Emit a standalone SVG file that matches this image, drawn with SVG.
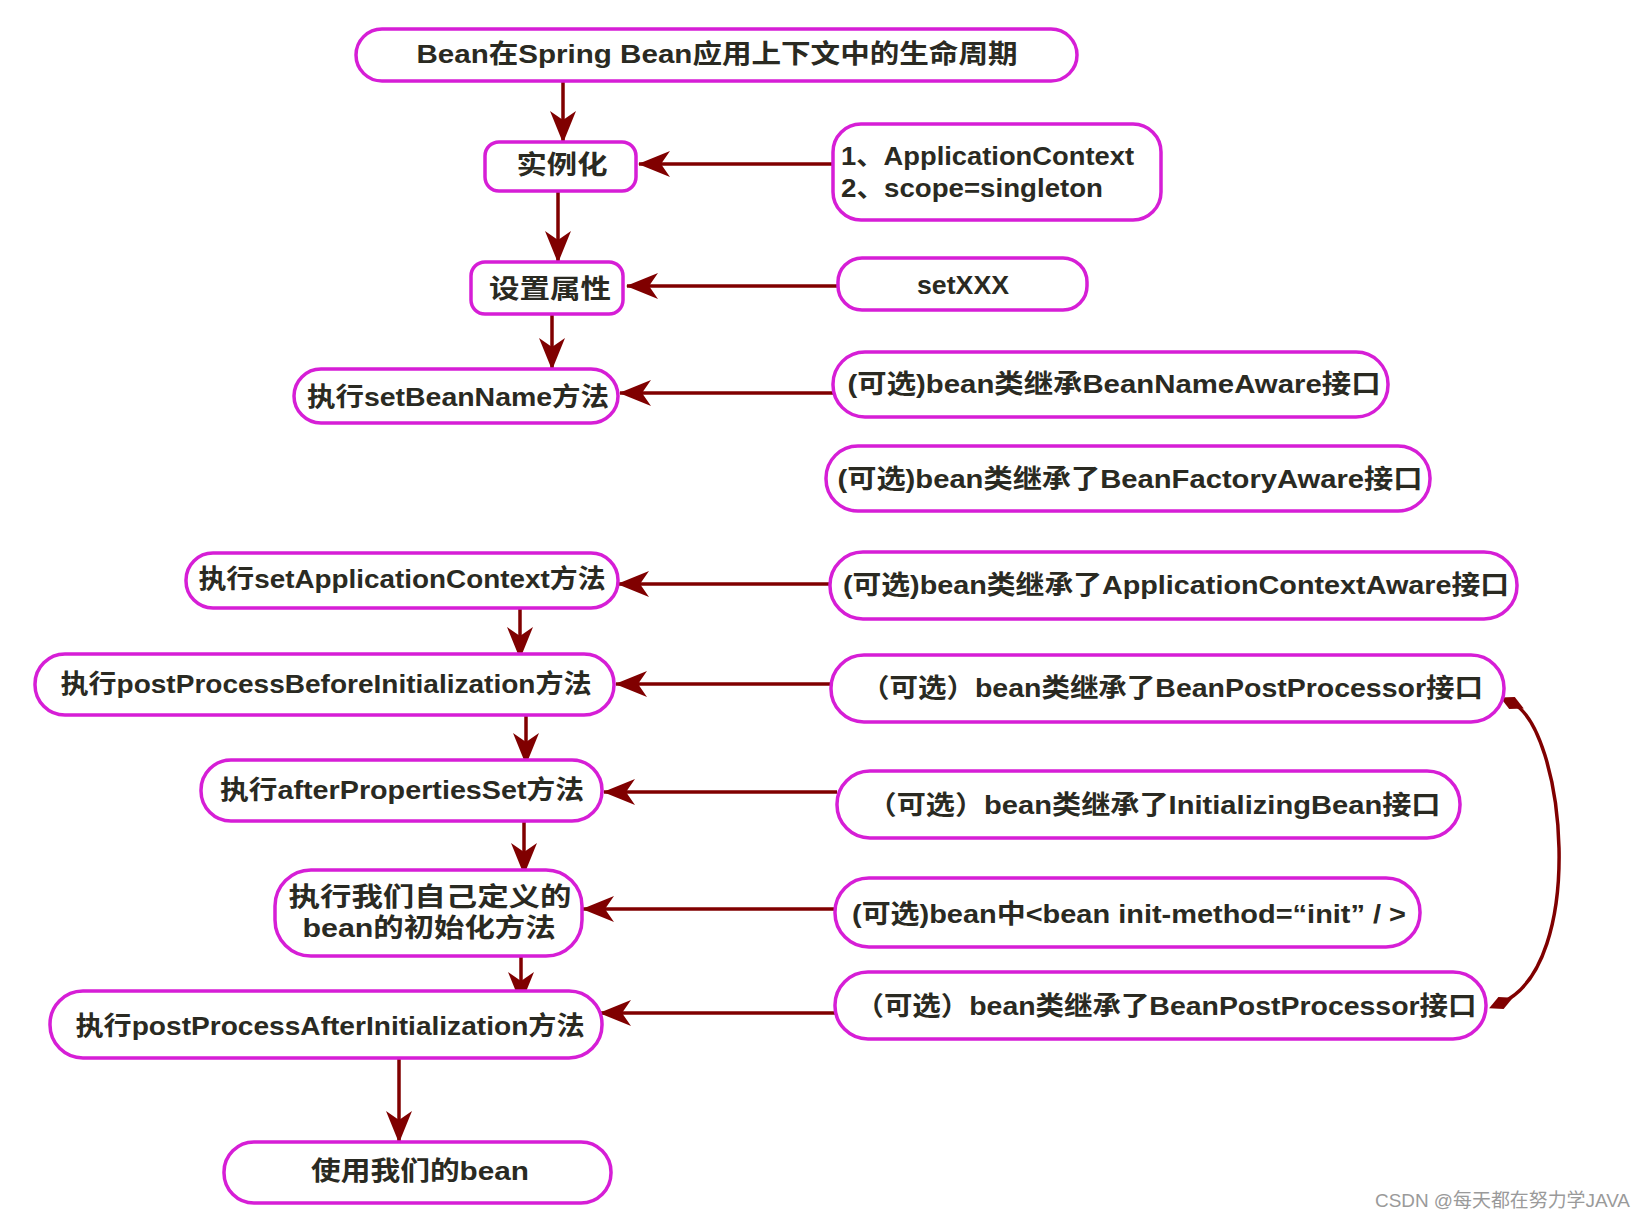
<svg xmlns="http://www.w3.org/2000/svg" width="1643" height="1217" viewBox="0 0 1643 1217">
<style>
.box{fill:#ffffff;stroke:#d61ed6;stroke-width:3.5}
.t{font-family:"Liberation Sans","Noto Sans CJK SC",sans-serif;font-weight:bold;fill:#2a2a22;font-size:26px;text-anchor:middle}
.ts{text-anchor:start}
.c{fill:none;stroke:#800000;stroke-width:3.5}
.wm{font-family:"Liberation Sans","Noto Sans CJK SC",sans-serif;fill:#9a9a9a;font-size:19px}
</style>
<defs>
<marker id="ah" markerUnits="userSpaceOnUse" viewBox="0 0 32 26" refX="31" refY="13" markerWidth="32" markerHeight="26" orient="auto">
<path d="M0,0 L32,13 L0,26 L9,13 Z" fill="#800000"/>
</marker>
<marker id="dm" markerUnits="userSpaceOnUse" viewBox="0 0 26 13" refX="13" refY="6.5" markerWidth="26" markerHeight="13" orient="auto">
<path d="M0,6.5 L13,0 L26,6.5 L13,13 Z" fill="#800000"/>
</marker>
</defs>
<rect width="1643" height="1217" fill="#ffffff"/>

<g id="connectors">
<line class="c" x1="563" y1="81" x2="563" y2="142" marker-end="url(#ah)"/>
<line class="c" x1="558" y1="191" x2="558" y2="262" marker-end="url(#ah)"/>
<line class="c" x1="552" y1="314" x2="552" y2="369" marker-end="url(#ah)"/>
<line class="c" x1="520" y1="608" x2="520" y2="658" marker-end="url(#ah)"/>
<line class="c" x1="526" y1="715" x2="526" y2="764" marker-end="url(#ah)"/>
<line class="c" x1="524" y1="821" x2="524" y2="874" marker-end="url(#ah)"/>
<line class="c" x1="521" y1="956" x2="521" y2="1003" marker-end="url(#ah)"/>
<line class="c" x1="399" y1="1058" x2="399" y2="1142" marker-end="url(#ah)"/>
<line class="c" x1="833" y1="164" x2="639" y2="164" marker-end="url(#ah)"/>
<line class="c" x1="838" y1="286" x2="627" y2="286" marker-end="url(#ah)"/>
<line class="c" x1="833" y1="393" x2="620" y2="393" marker-end="url(#ah)"/>
<line class="c" x1="830" y1="584" x2="618" y2="584" marker-end="url(#ah)"/>
<line class="c" x1="831" y1="684" x2="616" y2="684" marker-end="url(#ah)"/>
<line class="c" x1="837" y1="792" x2="604" y2="792" marker-end="url(#ah)"/>
<line class="c" x1="835" y1="909" x2="583" y2="909" marker-end="url(#ah)"/>
<line class="c" x1="835" y1="1013" x2="600" y2="1013" marker-end="url(#ah)"/>
<path class="c" d="M1512,703 C1565,728 1588,965 1501,1003" marker-start="url(#dm)" marker-end="url(#dm)"/>
</g>

<g id="n-title"><rect class="box" x="356" y="29" width="721" height="52" rx="26"/><text class="t" x="717" y="63" textLength="601" lengthAdjust="spacingAndGlyphs">Bean在Spring Bean应用上下文中的生命周期</text></g>
<g id="n-instantiate"><rect class="box" x="485" y="142" width="151" height="49" rx="14"/><text class="t" x="562" y="174" font-size="28" textLength="91" lengthAdjust="spacingAndGlyphs">实例化</text></g>
<g id="n-appctx"><rect class="box" x="833" y="124" width="328" height="96" rx="28"/><text class="t ts" x="841" y="165" textLength="293" lengthAdjust="spacingAndGlyphs">1、ApplicationContext</text><text class="t ts" x="841" y="197" textLength="262" lengthAdjust="spacingAndGlyphs">2、scope=singleton</text></g>
<g id="n-setprops"><rect class="box" x="471" y="262" width="152" height="52" rx="14"/><text class="t" x="550" y="298" font-size="28" textLength="122" lengthAdjust="spacingAndGlyphs">设置属性</text></g>
<g id="n-setxxx"><rect class="box" x="838" y="258" width="249" height="52" rx="24"/><text class="t" x="963" y="294" font-size="24" textLength="92" lengthAdjust="spacingAndGlyphs">setXXX</text></g>
<g id="n-setbeanname"><rect class="box" x="294" y="369" width="324" height="54" rx="27"/><text class="t" x="458" y="406" textLength="302" lengthAdjust="spacingAndGlyphs">执行setBeanName方法</text></g>
<g id="n-beannameaware"><rect class="box" x="833" y="352" width="555" height="65" rx="32"/><text class="t" x="1114" y="393" textLength="533" lengthAdjust="spacingAndGlyphs">(可选)bean类继承BeanNameAware接口</text></g>
<g id="n-beanfactoryaware"><rect class="box" x="826" y="446" width="604" height="65" rx="32"/><text class="t" x="1130" y="488" textLength="585" lengthAdjust="spacingAndGlyphs">(可选)bean类继承了BeanFactoryAware接口</text></g>
<g id="n-setappctx"><rect class="box" x="186" y="553" width="432" height="55" rx="27"/><text class="t" x="402" y="588" textLength="407" lengthAdjust="spacingAndGlyphs">执行setApplicationContext方法</text></g>
<g id="n-appctxaware"><rect class="box" x="830" y="552" width="687" height="67" rx="33"/><text class="t" x="1176" y="594" textLength="666" lengthAdjust="spacingAndGlyphs">(可选)bean类继承了ApplicationContextAware接口</text></g>
<g id="n-postbefore"><rect class="box" x="35" y="654" width="579" height="61" rx="30"/><text class="t" x="326" y="693" textLength="531" lengthAdjust="spacingAndGlyphs">执行postProcessBeforeInitialization方法</text></g>
<g id="n-bpp1"><rect class="box" x="831" y="655" width="673" height="67" rx="33"/><text class="t" x="1172" y="697" textLength="622" lengthAdjust="spacingAndGlyphs">（可选）bean类继承了BeanPostProcessor接口</text></g>
<g id="n-afterprops"><rect class="box" x="201" y="760" width="401" height="61" rx="30"/><text class="t" x="402" y="799" textLength="364" lengthAdjust="spacingAndGlyphs">执行afterPropertiesSet方法</text></g>
<g id="n-initbean"><rect class="box" x="837" y="771" width="623" height="67" rx="33"/><text class="t" x="1154" y="814" textLength="573" lengthAdjust="spacingAndGlyphs">（可选）bean类继承了InitializingBean接口</text></g>
<g id="n-custominit"><rect class="box" x="275" y="870" width="307" height="86" rx="36"/><text class="t" x="430" y="906" textLength="283" lengthAdjust="spacingAndGlyphs">执行我们自己定义的</text><text class="t" x="429" y="937" textLength="253" lengthAdjust="spacingAndGlyphs">bean的初始化方法</text></g>
<g id="n-initmethod"><rect class="box" x="835" y="878" width="585" height="69" rx="34"/><text class="t" x="1129" y="923" textLength="554" lengthAdjust="spacingAndGlyphs">(可选)bean中&lt;bean init-method=“init” / &gt;</text></g>
<g id="n-postafter"><rect class="box" x="50" y="991" width="552" height="67" rx="33"/><text class="t" x="330" y="1035" textLength="509" lengthAdjust="spacingAndGlyphs">执行postProcessAfterInitialization方法</text></g>
<g id="n-bpp2"><rect class="box" x="835" y="972" width="651" height="67" rx="33"/><text class="t" x="1166" y="1015" textLength="621" lengthAdjust="spacingAndGlyphs">（可选）bean类继承了BeanPostProcessor接口</text></g>
<g id="n-use"><rect class="box" x="224" y="1142" width="387" height="61" rx="30"/><text class="t" x="420" y="1180" textLength="218" lengthAdjust="spacingAndGlyphs">使用我们的bean</text></g>

<text class="wm" x="1375" y="1207" textLength="255" lengthAdjust="spacingAndGlyphs">CSDN @每天都在努力学JAVA</text>
</svg>
